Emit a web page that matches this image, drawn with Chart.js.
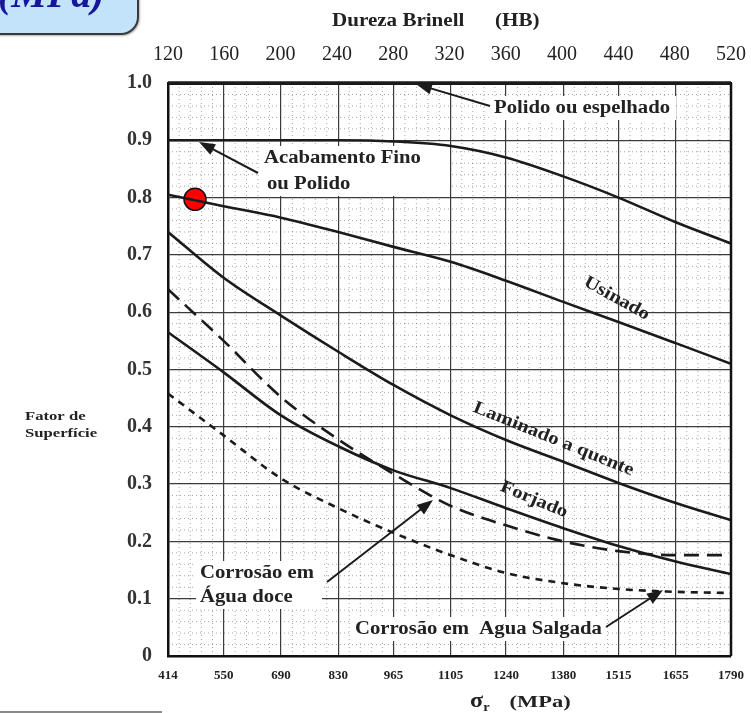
<!DOCTYPE html>
<html>
<head>
<meta charset="utf-8">
<script src="https://cdn.jsdelivr.net/npm/chart.js@4.4.0/dist/chart.umd.min.js"></script>
<style>
html, body { margin: 0; padding: 0; background: #fff; }
#wrap { position: relative; width: 751px; height: 713px; overflow: hidden; }
#wrap canvas { position: absolute; left: 0; top: 0; }
.badge {
    position: absolute; left: -30px; top: -30px; width: 165px; height: 61px;
    background: #c2e3fa; border: 2px solid #3a3a3a; border-radius: 0 0 18px 0;
    box-shadow: 1px 1px 2px rgba(0,0,0,0.3);
    overflow: hidden;
}
.badge span {
    position: absolute; left: 26px; top: -2px; font: italic bold 40px 'Liberation Serif', serif;
    color: #16169a; white-space: nowrap;
}
.foot { position: absolute; left: 0; top: 711px; width: 162px; height: 2px; background: #8a8a8a; }
</style>
</head>
<body>
<div id="wrap">
    <canvas id="surfaceChart" width="751" height="713"></canvas>
    <div class="badge"><span>(MPa)</span></div>
    <div class="foot"></div>
</div>
<script>
// Tick values
const mpaTicks = [414, 550, 690, 830, 965, 1105, 1240, 1380, 1515, 1655, 1790];
const hbTicks = [120, 160, 200, 240, 280, 320, 360, 400, 440, 480, 520];
const yTicks = [0, 0.1, 0.2, 0.3, 0.4, 0.5, 0.6, 0.7, 0.8, 0.9, 1.0];

// Surface factor curves, one value per MPa tick
const polidoEspelhado = [1, 1, 1, 1, 1, 1, 1, 1, 1, 1, 1];
const acabamentoFino = [0.9, 0.9, 0.9, 0.9, 0.898, 0.89, 0.87, 0.837, 0.80, 0.757, 0.72];
const usinado = [0.805, 0.785, 0.765, 0.74, 0.714, 0.688, 0.655, 0.618, 0.583, 0.546, 0.51];
const laminadoQuente = [0.74, 0.66, 0.594, 0.531, 0.473, 0.42, 0.377, 0.339, 0.302, 0.267, 0.237];
const forjado = [0.565, 0.495, 0.42, 0.366, 0.324, 0.293, 0.258, 0.223, 0.192, 0.165, 0.143];
const aguaDoce = [0.64, 0.55, 0.452, 0.378, 0.318, 0.262, 0.228, 0.2, 0.183, 0.176, 0.176];
const aguaSalgada = [0.458, 0.385, 0.31, 0.258, 0.215, 0.176, 0.145, 0.127, 0.117, 0.112, 0.11];

// Red marker
const markerX = [480];
const markerY = [0.797];

const SERIF = "'Liberation Serif', 'Times New Roman', serif";
const INK = '#1b1b1b';

function toPoints(values) {
    return mpaTicks.map((x, i) => ({ x: x, y: values[i] }));
}

function curve(label, values, dash, width) {
    return {
        label: label,
        data: toPoints(values),
        borderColor: INK,
        borderWidth: width || 2.6,
        borderDash: dash || [],
        pointRadius: 0,
        fill: false,
        cubicInterpolationMode: 'monotone'
    };
}

// bold serif text, a bit stretched like the scanned original
function drawText(ctx, s, x, y, size, angle, stretch) {
    ctx.save();
    ctx.translate(x, y);
    if (angle) ctx.rotate(angle * Math.PI / 180);
    ctx.scale(stretch || 1.15, 1);
    ctx.font = 'bold ' + size + 'px ' + SERIF;
    ctx.fillStyle = '#222';
    ctx.textAlign = 'left';
    ctx.textBaseline = 'middle';
    ctx.fillText(s, 0, 0);
    ctx.restore();
}

function drawArrow(ctx, x1, y1, x2, y2) {
    const a = Math.atan2(y2 - y1, x2 - x1);
    const len = 16, half = 6;
    ctx.save();
    ctx.strokeStyle = INK;
    ctx.fillStyle = INK;
    ctx.lineWidth = 2;
    ctx.beginPath();
    ctx.moveTo(x1, y1);
    ctx.lineTo(x2 - Math.cos(a) * len * 0.8, y2 - Math.sin(a) * len * 0.8);
    ctx.stroke();
    ctx.beginPath();
    ctx.moveTo(x2, y2);
    ctx.lineTo(x2 - len * Math.cos(a) + half * Math.sin(a), y2 - len * Math.sin(a) - half * Math.cos(a));
    ctx.lineTo(x2 - len * Math.cos(a) - half * Math.sin(a), y2 - len * Math.sin(a) + half * Math.cos(a));
    ctx.closePath();
    ctx.fill();
    ctx.restore();
}

// Minor dotted grid, white label backgrounds and annotations
const paperPlugin = {
    id: 'paper',
    beforeDatasetsDraw(chart) {
        const ctx = chart.ctx, area = chart.chartArea;
        const xs = chart.scales.x, ys = chart.scales.y;
        ctx.save();
        ctx.strokeStyle = 'rgba(0,0,0,0.35)';
        ctx.lineWidth = 1;
        ctx.setLineDash([1, 3]);
        for (let i = 0; i < mpaTicks.length - 1; i++) {
            for (let k = 1; k < 5; k++) {
                const px = xs.getPixelForValue(mpaTicks[i] + (mpaTicks[i + 1] - mpaTicks[i]) * k / 5);
                ctx.beginPath();
                ctx.moveTo(px, area.top);
                ctx.lineTo(px, area.bottom);
                ctx.stroke();
            }
        }
        for (let v = 0.02; v < 1; v += 0.02) {
            if (Math.abs(v * 10 - Math.round(v * 10)) < 1e-6) continue;
            const py = ys.getPixelForValue(v);
            ctx.beginPath();
            ctx.moveTo(area.left, py);
            ctx.lineTo(area.right, py);
            ctx.stroke();
        }
        ctx.setLineDash([]);
        ctx.fillStyle = '#fff';
        ctx.fillRect(260, 146, 190, 50);
        ctx.fillRect(490, 96, 186, 24);
        ctx.fillRect(196, 561, 126, 48);
        ctx.fillRect(350, 617, 256, 24);
        ctx.restore();
    },
    afterDatasetsDraw(chart) {
        const ctx = chart.ctx, area = chart.chartArea;
        // right frame
        ctx.save();
        ctx.strokeStyle = '#111';
        ctx.lineWidth = 2.5;
        ctx.beginPath();
        ctx.moveTo(area.right, area.top);
        ctx.lineTo(area.right, area.bottom);
        ctx.stroke();
        ctx.restore();

        drawText(ctx, 'Polido ou espelhado', 494, 108, 18);
        drawArrow(ctx, 490, 106, 416, 84);
        drawText(ctx, 'Acabamento Fino', 264, 158, 18);
        drawText(ctx, 'ou Polido', 267, 184, 18);
        drawArrow(ctx, 258, 173, 199, 142);
        drawText(ctx, 'Usinado', 585, 281, 18, 29);
        drawText(ctx, 'Laminado a quente', 474, 407, 18, 22);
        drawText(ctx, 'Forjado', 501, 486, 18, 22.5);
        drawText(ctx, 'Corrosão em', 200, 573, 18);
        drawText(ctx, 'Água doce', 200, 597, 18);
        drawArrow(ctx, 327, 582, 433, 500);
        drawText(ctx, 'Corrosão em  Agua Salgada', 355, 629, 18);
        drawArrow(ctx, 606, 627, 663, 590);

        // outer titles
        drawText(ctx, 'Dureza Brinell', 332, 21, 18, 0, 1.17);
        drawText(ctx, '(HB)', 495, 21, 18, 0, 1.17);
        drawText(ctx, 'Fator de', 25, 417, 13, 0, 1.28);
        drawText(ctx, 'Superfície', 25, 434, 13, 0, 1.28);
        ctx.save();
        ctx.fillStyle = '#222';
        ctx.translate(470, 707);
        ctx.scale(1.2, 1);
        ctx.textBaseline = 'alphabetic';
        ctx.font = 'bold 20px ' + SERIF;
        ctx.fillText('σ', 0, 0);
        ctx.font = 'bold 12px ' + SERIF;
        ctx.fillText('r', 11, 4);
        ctx.scale(1.1, 1);
        ctx.font = 'bold 17px ' + SERIF;
        ctx.fillText('(MPa)', 30, 0);
        ctx.restore();
    }
};

const datasets = [
    curve('Polido ou espelhado', polidoEspelhado, [], 3.5),
    curve('Acabamento Fino ou Polido', acabamentoFino),
    curve('Usinado', usinado),
    curve('Laminado a quente', laminadoQuente),
    curve('Forjado', forjado),
    curve('Corrosão em Água doce', aguaDoce, [15, 8]),
    curve('Corrosão em Água Salgada', aguaSalgada, [7, 6]),
    {
        label: 'Ponto',
        data: markerX.map((x, i) => ({ x: x, y: markerY[i] })),
        showLine: false,
        pointRadius: 11,
        pointBackgroundColor: '#ff0000',
        pointBorderColor: '#111',
        pointBorderWidth: 1.5
    }
];
datasets[0].clip = false;

// keep tick labels from pushing the plot edges inward
function fixHorizontal(h) {
    return scale => {
        scale.height = h;
        scale.paddingLeft = 0;
        scale.paddingRight = 0;
    };
}

const ctx = document.getElementById('surfaceChart').getContext('2d');
new Chart(ctx, {
    type: 'line',
    data: { datasets: datasets },
    plugins: [paperPlugin],
    options: {
        responsive: false,
        animation: false,
        layout: { padding: { top: 0, right: 20, bottom: 0, left: 0 } },
        plugins: {
            legend: { display: false },
            tooltip: { enabled: false }
        },
        scales: {
            x: {
                type: 'linear',
                position: 'bottom',
                min: 414,
                max: 1790,
                afterBuildTicks: axis => { axis.ticks = mpaTicks.map(v => ({ value: v })); },
                afterFit: fixHorizontal(57),
                grid: { color: '#3c3c3c', lineWidth: 1.2, drawTicks: false },
                border: { color: '#111', width: 2.5 },
                ticks: {
                    color: '#222',
                    padding: 12,
                    maxRotation: 0,
                    autoSkip: false,
                    font: { family: SERIF, size: 13, weight: 'bold' },
                    callback: v => String(v)
                }
            },
            x2: {
                type: 'linear',
                position: 'top',
                min: 120,
                max: 520,
                afterBuildTicks: axis => { axis.ticks = hbTicks.map(v => ({ value: v })); },
                afterFit: fixHorizontal(83),
                grid: { drawOnChartArea: false, drawTicks: false },
                border: { color: '#111', width: 3 },
                ticks: {
                    color: '#222',
                    padding: 16,
                    maxRotation: 0,
                    autoSkip: false,
                    font: { family: SERIF, size: 20 },
                    callback: v => String(v)
                }
            },
            y: {
                type: 'linear',
                min: 0,
                max: 1,
                afterBuildTicks: axis => { axis.ticks = yTicks.map(v => ({ value: v })); },
                afterFit: scale => { scale.width = 168; },
                grid: { color: '#3c3c3c', lineWidth: 1.2, drawTicks: false },
                border: { color: '#111', width: 2.5 },
                ticks: {
                    color: '#333',
                    padding: 16,
                    font: { family: SERIF, size: 20, weight: 'bold' },
                    callback: v => (v === 0 ? '0' : v.toFixed(1))
                }
            }
        }
    }
});
</script>
</body>
</html>
